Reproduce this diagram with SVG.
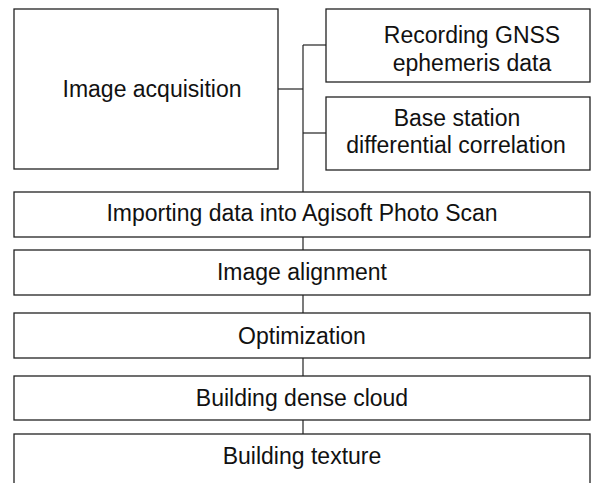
<svg xmlns="http://www.w3.org/2000/svg" width="592" height="483" viewBox="0 0 592 483">
  <style>
    .box { fill: #ffffff; stroke: #222222; stroke-width: 1.3; }
    .link { fill: none; stroke: #222222; stroke-width: 1.2; }
    .label { font-family: "Liberation Sans", Arial, sans-serif; font-size: 23px; fill: #111111; text-anchor: middle; }
  </style>
  <rect width="592" height="483" fill="#ffffff"/>

  <!-- connectors -->
  <g id="connectors">
    <path class="link" d="M278 89 H303"/>
    <path class="link" d="M303 45 V192"/>
    <path class="link" d="M303 45 H326"/>
    <path class="link" d="M303 133 H326"/>
    <path class="link" d="M303 237 V250"/>
    <path class="link" d="M303 295 V313"/>
    <path class="link" d="M303 358 V376"/>
    <path class="link" d="M303 420 V434"/>
  </g>

  <g id="image-acquisition">
    <rect class="box" x="14" y="9" width="264" height="160"/>
    <text class="label" x="152" y="97">Image acquisition</text>
  </g>

  <g id="recording-gnss">
    <rect class="box" x="326" y="9" width="264" height="73"/>
    <text class="label" x="472" y="43">Recording GNSS</text>
    <text class="label" x="472" y="71">ephemeris data</text>
  </g>

  <g id="base-station">
    <rect class="box" x="326" y="97" width="264" height="73"/>
    <text class="label" x="457" y="126">Base station</text>
    <text class="label" x="456" y="153">differential correlation</text>
  </g>

  <g id="importing-data">
    <rect class="box" x="14" y="192" width="576" height="45"/>
    <text class="label" x="302" y="221">Importing data into Agisoft Photo Scan</text>
  </g>

  <g id="image-alignment">
    <rect class="box" x="14" y="250" width="576" height="45"/>
    <text class="label" x="302" y="280">Image alignment</text>
  </g>

  <g id="optimization">
    <rect class="box" x="14" y="313" width="576" height="45"/>
    <text class="label" x="302" y="344">Optimization</text>
  </g>

  <g id="dense-cloud">
    <rect class="box" x="14" y="376" width="576" height="44"/>
    <text class="label" x="302" y="406">Building dense cloud</text>
  </g>

  <g id="building-texture">
    <rect class="box" x="14" y="434" width="576" height="60"/>
    <text class="label" x="302" y="464">Building texture</text>
  </g>
</svg>
